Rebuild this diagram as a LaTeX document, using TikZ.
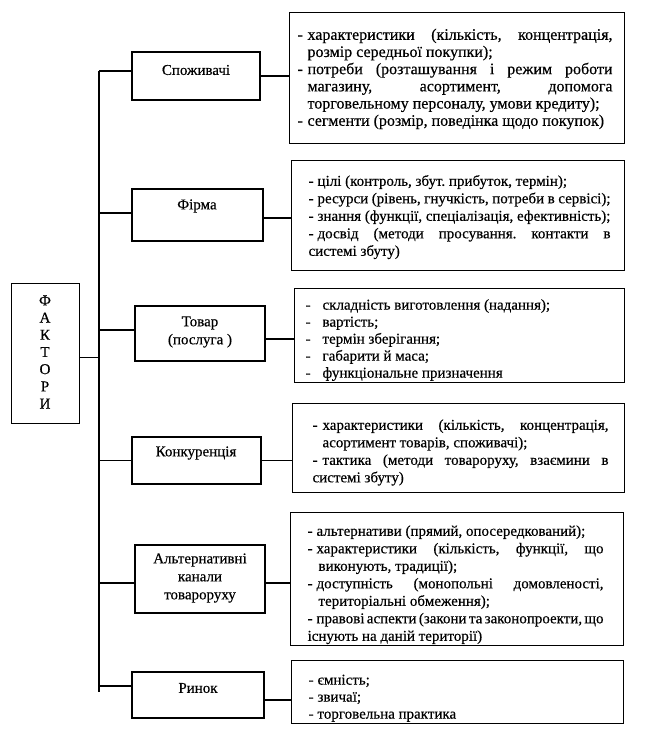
\documentclass[tikz,border=0pt]{standalone}
\usepackage{fontspec}
\setmainfont{Liberation Serif}[FakeBold=0.4]
\newlength\dw
\newlength\hw
\newcommand\itm[1]{\par\hangindent=\hw\hangafter=1\noindent\hbox to\dw{-\hss}#1}
\hyphenpenalty=10000
\exhyphenpenalty=10000
\tolerance=10000
\hbadness=10000
\frenchspacing
\begin{document}
\begin{tikzpicture}[x=1pt,y=-1pt,line width=1.1pt,
  frame/.style={draw,inner sep=0pt,anchor=north west},
  lab/.style={inner sep=0pt,align=center,font=\fontsize{15}{18}\selectfont},
  txt/.style={inner sep=0pt,anchor=north west,align=justify}]
\useasboundingbox (0,0) rectangle (650,745);
\fill[white] (0,0) rectangle (650,745);

% factor box
\node[frame,minimum width=68pt,minimum height=140pt] (f) at (11,283) {};
\node[lab,font=\fontsize{15}{17.2}\selectfont] (ft) at (45,352) {Ф\\А\\К\\Т\\О\\Р\\И};

% spine
\coordinate (sp1) at (99,71);
\coordinate (sp2) at (99,692);
\draw (sp1) -- (sp2);
\coordinate (fa) at ([yshift=-4pt]f.east);
\draw (fa) -- (fa -| sp1);

% middle boxes
\node[draw,inner sep=0pt,minimum width=128pt,minimum height=48pt] (s1) at (196,76) {};
\node[draw,inner sep=0pt,minimum width=131pt,minimum height=52pt] (s2) at (197.5,215) {};
\node[draw,inner sep=0pt,minimum width=130pt,minimum height=55pt] (s3) at (200,333.5) {};
\node[draw,inner sep=0pt,minimum width=129pt,minimum height=47pt] (s4) at (196.5,460.5) {};
\node[draw,inner sep=0pt,minimum width=130pt,minimum height=68pt] (s5) at (200,579) {};
\node[draw,inner sep=0pt,minimum width=132pt,minimum height=46pt] (s6) at (198,695) {};

\node[lab] (l1) at (196,70) {Споживачі};
\node[lab] (l2) at (197,206) {Фірма};
\node[lab] (l3) at (200,332) {Товар\\(послуга )};
\node[lab] (l4) at (196,453) {Конкуренція};
\node[lab] (l5) at (200,578) {Альтернативні\\канали\\товароруху};
\node[lab] (l6) at (198,688) {Ринок};

% detail boxes
\node[frame,minimum width=335pt,minimum height=131pt] (d1) at (289,12) {};
\node[frame,minimum width=333pt,minimum height=110pt] (d2) at (291,160) {};
\node[frame,minimum width=330pt,minimum height=94pt] (d3) at (294,288) {};
\node[frame,minimum width=332pt,minimum height=89pt] (d4) at (292,403) {};
\node[frame,minimum width=333pt,minimum height=133pt] (d5) at (290,512) {};
\node[frame,minimum width=332pt,minimum height=63pt] (d6) at (291,660) {};

\node[txt,text width=315pt,font=\fontsize{16}{17.2}\selectfont] (t1) at (297,22) {%
\setlength\dw{10pt}\setlength\hw{10pt}%
\itm{\strut характеристики (кількість, концентрація,\linebreak розмір середньої покупки);}%
\itm{потреби (розташування і режим роботи\linebreak магазину, асортимент, допомога\linebreak торговельному персоналу, умови кредиту);}%
\itm{сегменти (розмір, поведінка щодо покупок)}};

\node[txt,text width=302pt,font=\fontsize{15}{17.5}\selectfont] (t2) at (308,167.75) {%
\setlength\dw{9pt}\setlength\hw{10pt}%
\itm{\strut цілі (контроль, збут. прибуток, термін);}%
\itm{ресурси (рівень, гнучкість, потреби в сервісі);}%
\itm{знання (функції, спеціалізація, ефективність);}%
\itm{досвід (методи просування. контакти в\linebreak системі збуту)}};

\node[txt,text width=305pt,font=\fontsize{15}{17}\selectfont] (t3) at (305,292.1) {%
\setlength\dw{17pt}\setlength\hw{17pt}%
\itm{\strut складність виготовлення (надання);}%
\itm{вартість;}%
\itm{термін зберігання;}%
\itm{габарити й маса;}%
\itm{функціональне призначення}};

\node[txt,text width=296pt,font=\fontsize{15}{17.5}\selectfont] (t4) at (312,411.75) {%
\setlength\dw{10pt}\setlength\hw{10pt}%
\itm{\strut характеристики (кількість, концентрація,\linebreak асортимент товарів, споживачі);}%
\itm{тактика (методи товароруху, взаємини в\linebreak системі збуту)}};

\node[txt,text width=296pt,font=\fontsize{15}{17.5}\selectfont] (t5) at (307,517.75) {%
\spaceskip=3.75pt plus 8pt minus 2pt
\setlength\dw{9pt}\setlength\hw{11pt}%
\itm{\strut альтернативи (прямий, опосередкований);}%
\itm{характеристики (кількість, функції, що\linebreak виконують, традиції);}%
\itm{доступність (монопольні домовленості,\linebreak територіальні обмеження);}%
\itm{правові аспекти (закони та законопроекти, що\linebreak існують на даній території)}};

\node[txt,text width=292pt,font=\fontsize{15}{17}\selectfont] (t6) at (308,667.1) {%
\setlength\dw{9pt}\setlength\hw{9pt}%
\itm{\strut ємність;}%
\itm{звичаї;}%
\itm{торговельна практика}};

% connectors spine -> middle boxes
\coordinate (a1) at ([yshift=5pt]s1.west);
\coordinate (a2) at ([yshift=2pt]s2.west);
\coordinate (a3) at ([yshift=3.5pt]s3.west);
\coordinate (a4) at (s4.west);
\coordinate (a5) at ([yshift=-4pt]s5.west);
\coordinate (a6) at ([yshift=9pt]s6.west);
\foreach \i in {1,...,6} {\draw (a\i) -- (a\i -| sp1);}

% connectors middle boxes -> detail boxes
\coordinate (b1) at (s1.east);
\coordinate (b2) at ([yshift=-3pt]s2.east);
\coordinate (b3) at ([yshift=-5.5pt]s3.east);
\coordinate (b4) at (s4.east);
\coordinate (b5) at ([yshift=-4pt]s5.east);
\coordinate (b6) at ([yshift=-5pt]s6.east);
\foreach \i in {1,...,6} {\draw (b\i) -- (b\i -| d\i.west);}
\end{tikzpicture}
\end{document}
